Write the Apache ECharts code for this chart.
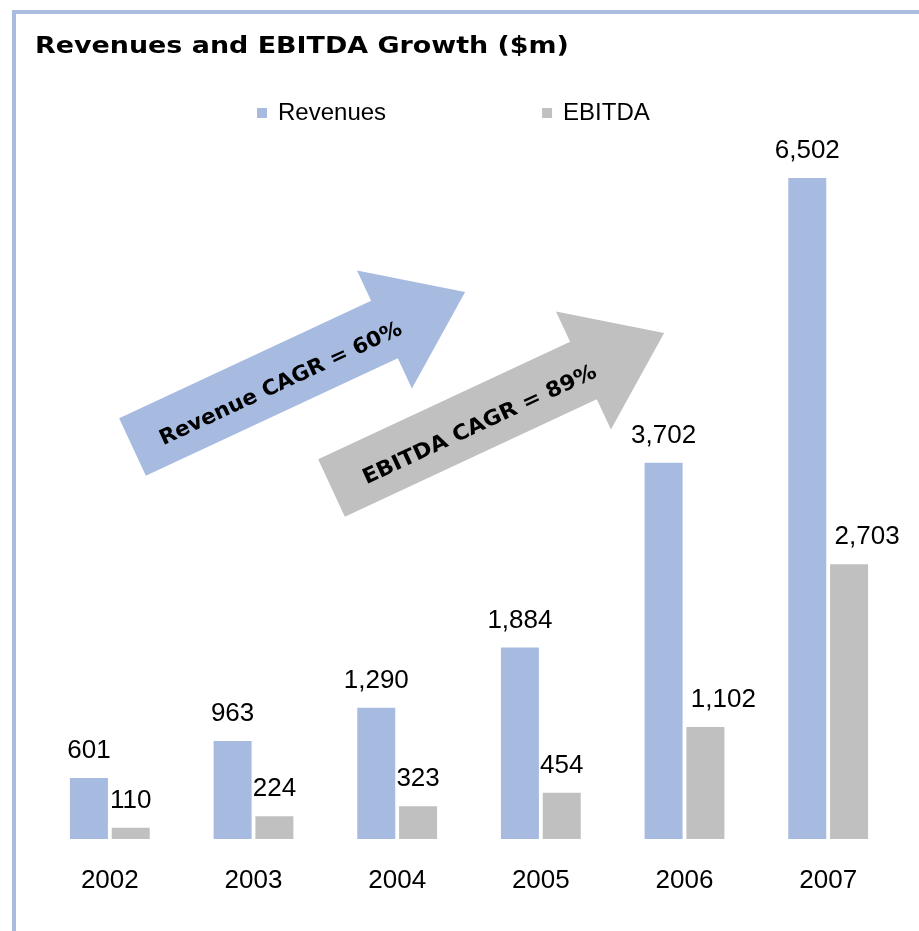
<!DOCTYPE html>
<html>
<head>
<meta charset="utf-8">
<script src="https://cdn.jsdelivr.net/npm/echarts@6/dist/echarts.min.js"></script>
<style>
html,body{margin:0;padding:0;background:#fff;}
#chart{width:919px;height:931px;}
</style>
</head>
<body>
<div id="chart"></div>
<script>
// ---- data ----
var years = ['2002', '2003', '2004', '2005', '2006', '2007'];
var revenues = [601, 963, 1290, 1884, 3702, 6502];
var ebitda = [110, 224, 323, 454, 1102, 2703];
var seriesNames = ['Revenues', 'EBITDA'];
var titleText = 'Revenues and EBITDA Growth ($m)';
var revenueCagrText = 'Revenue CAGR = 60%';
var ebitdaCagrText = 'EBITDA CAGR = 89%';

// ---- styles ----
var BLUE = '#a7bbe1';
var GREY = '#c0c0c0';
var BORDER = '#a9bce0';
var ebitdaLabelShift = [0, 0, 0, 0, 18, 18];

function fmt(v) { return v.toLocaleString('en-US'); }

// arrow shape built from a tail centre, angle and dimensions
function arrowPoints(cx, cy, angleDeg, shaftLen, halfShaft, halfHead, tipLen) {
  var a = angleDeg * Math.PI / 180;
  var ux = Math.cos(a), uy = -Math.sin(a);
  var nx = Math.sin(a), ny = Math.cos(a);
  function p(s, t) { return [cx + ux * s + nx * t, cy + uy * s + ny * t]; }
  return [p(0, -halfShaft), p(shaftLen, -halfShaft), p(shaftLen, -halfHead),
          p(tipLen, 0), p(shaftLen, halfHead), p(shaftLen, halfShaft), p(0, halfShaft)];
}
function along(cx, cy, angleDeg, s, t) {
  var a = angleDeg * Math.PI / 180;
  return [cx + Math.cos(a) * s + Math.sin(a) * t, cy - Math.sin(a) * s + Math.cos(a) * t];
}

var ANG = 25;
var revT = along(132.5, 447, ANG, 161, 6);
var ebT = along(331.5, 488, ANG, 161, 6);

var labelStyle = {fontFamily: 'Liberation Sans', fontSize: 26, color: '#000'};

var chart = echarts.init(document.getElementById('chart'), null, {renderer: 'canvas'});
var option = {
  backgroundColor: '#ffffff',
  animation: false,
  legend: {
    data: seriesNames,
    left: 257, top: 101, padding: 0,
    icon: 'rect', itemWidth: 10, itemHeight: 10, itemGap: 156,
    textStyle: {fontFamily: 'Liberation Sans', fontSize: 24, color: '#000', padding: [0, 0, 0, 6]}
  },
  grid: {left: 38, right: 19, top: 178, bottom: 92},
  xAxis: {
    type: 'category', data: years,
    axisLine: {show: false}, axisTick: {show: false},
    axisLabel: Object.assign({margin: 29}, labelStyle)
  },
  yAxis: {type: 'value', min: 0, max: 6502, show: false, splitLine: {show: false}},
  series: [
    {
      name: seriesNames[0], type: 'bar', data: revenues,
      barWidth: 38, barGap: '10%',
      itemStyle: {color: BLUE},
      label: Object.assign({show: true, position: 'top', distance: 14,
                            formatter: function (p) { return fmt(p.value); }}, labelStyle)
    },
    {
      name: seriesNames[1], type: 'bar',
      data: ebitda.map(function (v, i) {
        return {value: v, label: {offset: [ebitdaLabelShift[i], 0]}};
      }),
      barWidth: 38, barGap: '10%',
      itemStyle: {color: GREY},
      label: Object.assign({show: true, position: 'top', distance: 14,
                            formatter: function (p) { return fmt(p.value); }}, labelStyle)
    }
  ],
  graphic: [
    {type: 'rect', shape: {x: 14, y: 12, width: 1200, height: 1200}, silent: true,
     style: {fill: 'none', stroke: BORDER, lineWidth: 4}},
    {type: 'text', x: 35, y: 47, scaleX: 1.17, z: 11,
     style: {text: titleText, fill: '#000', font: 'bold 23px "DejaVu Sans"', textAlign: 'left', textVerticalAlign: 'middle'}},
    {type: 'polygon', shape: {points: arrowPoints(132.5, 447, ANG, 278, 31.6, 65, 367)},
     style: {fill: BLUE}, z: 10},
    {type: 'polygon', shape: {points: arrowPoints(331.5, 488, ANG, 278, 31.6, 65, 367)},
     style: {fill: GREY}, z: 10},
    {type: 'text', x: revT[0], y: revT[1], rotation: ANG * Math.PI / 180, scaleX: 1.03, z: 11,
     style: {text: revenueCagrText, fill: '#000', font: 'bold 21px "DejaVu Sans"', textAlign: 'center', textVerticalAlign: 'middle'}},
    {type: 'text', x: ebT[0], y: ebT[1], rotation: ANG * Math.PI / 180, scaleX: 1.06, z: 11,
     style: {text: ebitdaCagrText, fill: '#000', font: 'bold 21px "DejaVu Sans"', textAlign: 'center', textVerticalAlign: 'middle'}}
  ]
};
chart.setOption(option);
</script>
</body>
</html>
